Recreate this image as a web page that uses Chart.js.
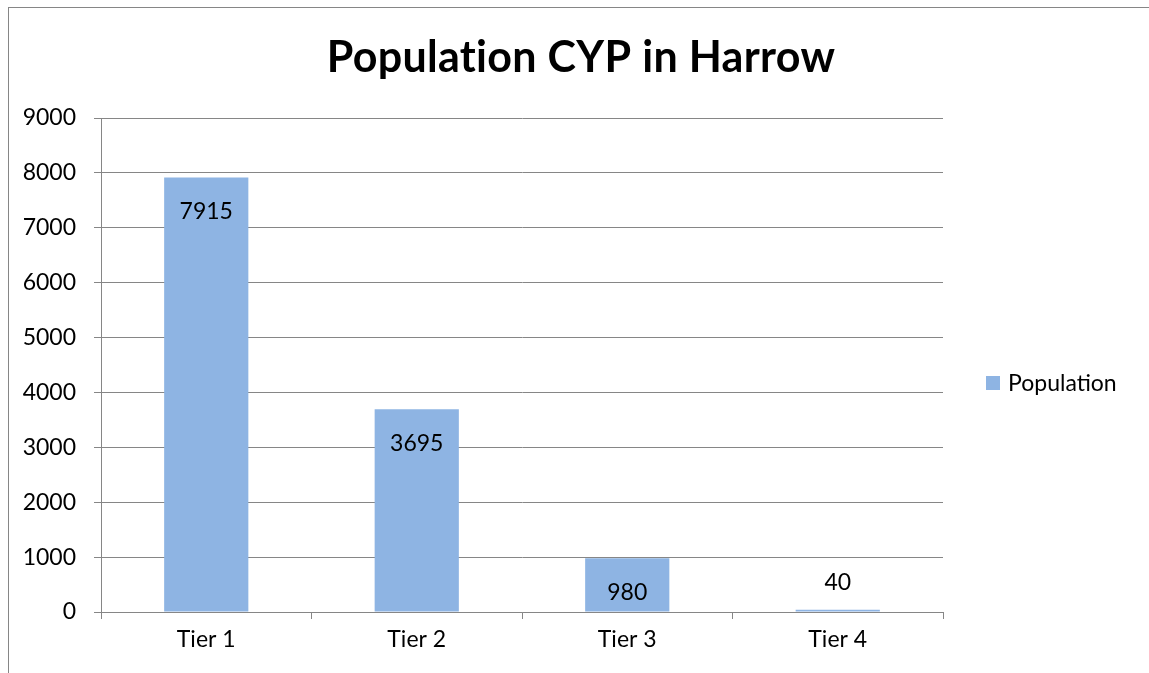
<!DOCTYPE html>
<html lang="en">
<head>
<meta charset="UTF-8">
<title>Population CYP in Harrow</title>
<script src="https://cdn.jsdelivr.net/npm/chart.js"></script>
<style>
  html, body { margin: 0; padding: 0; background: #fff; overflow: hidden; }
  #grafico { display: block; }
</style>
</head>
<body>
<canvas id="grafico" width="1149" height="673"></canvas>
<script>
// dados do grafico
const categorias = ['Tier 1', 'Tier 2', 'Tier 3', 'Tier 4'];
const populacao = [7915, 3695, 980, 40];
const nomeSerie = 'Population';
const titulo = 'Population CYP in Harrow';

const FONTE = 'Lato, "Open Sans", sans-serif';
const AZUL = '#8EB4E3';
const CINZA = '#868686';
const TAM = 23;

// moldura, titulo, legenda e rotulos das barras
const extras = {
    id: 'extras',
    beforeDraw(chart) {
        const ctx = chart.ctx;
        ctx.save();
        ctx.strokeStyle = CINZA;
        ctx.lineWidth = 1;
        ctx.strokeRect(8.5, 7.5, 1200, 700);
        ctx.restore();
    },
    afterDraw(chart) {
        const ctx = chart.ctx;
        ctx.save();
        ctx.fillStyle = '#000';
        ctx.textAlign = 'center';
        ctx.textBaseline = 'middle';
        ctx.font = 'bold 43px ' + FONTE;
        ctx.letterSpacing = '0.3px'; // sem ligadura "ti"
        ctx.fillText(titulo, 581, 58);
        ctx.letterSpacing = '0px';

        // legenda
        const ds = chart.data.datasets[0];
        ctx.fillStyle = ds.backgroundColor;
        ctx.fillRect(986, 376, 14, 14);
        ctx.fillStyle = '#000';
        ctx.textAlign = 'left';
        ctx.font = TAM + 'px ' + FONTE;
        ctx.fillText(ds.label, 1008, 384);

        // valores nas barras
        ctx.textAlign = 'center';
        const meta = chart.getDatasetMeta(0);
        meta.data.forEach((bar, i) => {
            const h = bar.base - bar.y;
            const y = h > 40 ? bar.y + 34 : bar.y - 27;
            ctx.fillText(String(ds.data[i]), bar.x, y);
        });
        ctx.restore();
    }
};

new Chart(document.getElementById('grafico'), {
    type: 'bar',
    data: {
        labels: categorias,
        datasets: [{
            label: nomeSerie,
            data: populacao,
            backgroundColor: AZUL,
            barPercentage: 0.4,
            categoryPercentage: 1.0
        }]
    },
    options: {
        responsive: false,
        animation: false,
        devicePixelRatio: 1,
        layout: { padding: { left: 0, top: 118, right: 206, bottom: 0 } },
        plugins: { legend: { display: false }, title: { display: false }, tooltip: { enabled: false } },
        scales: {
            x: {
                afterFit(scale) { scale.height = 61; },
                grid: { offset: true, drawOnChartArea: false, color: CINZA, tickLength: 7 },
                border: { color: CINZA },
                ticks: { color: '#000', font: { family: FONTE, size: TAM }, padding: 7 }
            },
            y: {
                min: 0,
                max: 9000,
                afterFit(scale) { scale.width = 101; },
                grid: { color: CINZA, tickLength: 7 },
                border: { color: CINZA },
                ticks: {
                    stepSize: 1000, color: '#000', font: { family: FONTE, size: TAM }, padding: 18,
                    callback: (v) => String(v)
                }
            }
        }
    },
    plugins: [extras]
});
</script>
</body>
</html>
